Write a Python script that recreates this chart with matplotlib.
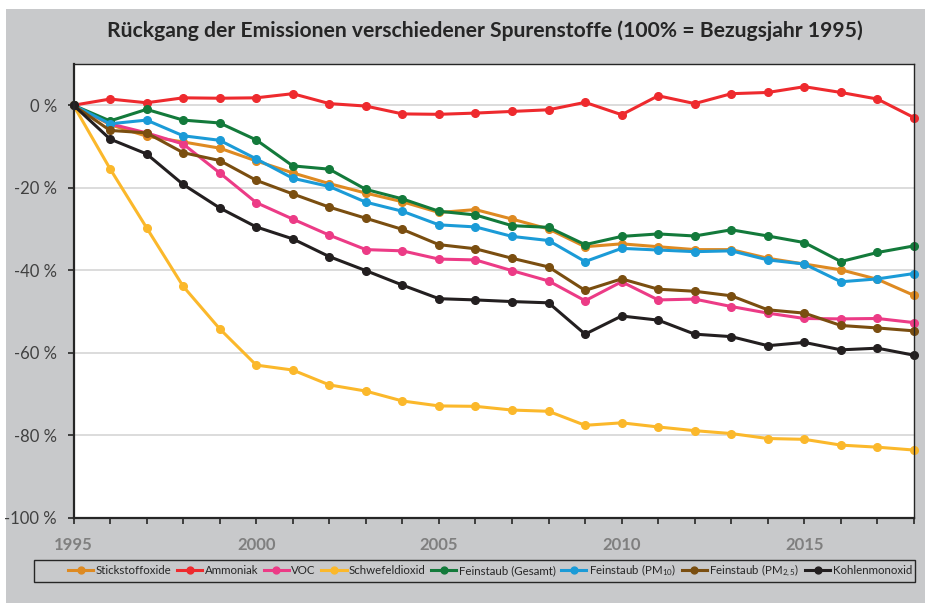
import matplotlib
matplotlib.use("Agg")
import matplotlib.pyplot as plt
from matplotlib.patches import Rectangle

plt.rcParams['font.family'] = ['Lato', 'DejaVu Sans']
plt.rcParams['mathtext.fontset'] = 'custom'
plt.rcParams['mathtext.rm'] = 'Lato'
plt.rcParams['mathtext.it'] = 'Lato'

years = list(range(1995, 2019))

stickstoffoxide = [0, -4.7, -7.5, -8.9, -10.4, -13.5, -16.4, -19.0, -21.3, -23.4, -26.0, -25.3,
                   -27.6, -30.0, -34.3, -33.6, -34.3, -35.0, -35.0, -37.1, -38.5, -39.9, -42.2, -46.1]
ammoniak = [0, 1.5, 0.6, 1.8, 1.7, 1.8, 2.8, 0.4, -0.2, -2.1, -2.2, -1.9,
            -1.5, -1.1, 0.7, -2.3, 2.3, 0.4, 2.8, 3.1, 4.5, 3.1, 1.5, -3.0]
voc = [0, -4.5, -6.7, -9.4, -16.4, -23.6, -27.6, -31.5, -35.0, -35.3, -37.3, -37.5,
       -40.1, -42.6, -47.4, -42.8, -47.2, -47.0, -48.8, -50.4, -51.7, -51.8, -51.7, -52.7]
schwefeldioxid = [0, -15.4, -29.7, -43.9, -54.2, -63.0, -64.2, -67.8, -69.3, -71.7, -72.9, -73.0,
                  -73.9, -74.2, -77.6, -77.0, -78.0, -78.9, -79.6, -80.8, -81.0, -82.4, -82.9, -83.6]
feinstaub_gesamt = [0, -3.8, -1.0, -3.6, -4.3, -8.4, -14.7, -15.5, -20.4, -22.7, -25.7, -26.6,
                    -29.2, -29.6, -33.8, -31.8, -31.2, -31.7, -30.2, -31.7, -33.3, -37.9, -35.7, -34.1]
feinstaub_pm10 = [0, -4.5, -3.6, -7.4, -8.5, -13.0, -17.7, -19.7, -23.5, -25.7, -29.0, -29.5,
                  -31.8, -32.8, -37.9, -34.7, -35.1, -35.5, -35.3, -37.5, -38.5, -42.8, -42.1, -40.8]
feinstaub_pm25 = [0, -6.1, -6.7, -11.5, -13.4, -18.2, -21.5, -24.7, -27.4, -30.1, -33.8, -34.8,
                  -37.1, -39.2, -44.9, -42.1, -44.6, -45.1, -46.2, -49.6, -50.4, -53.4, -54.0, -54.7]
kohlenmonoxid = [0, -8.2, -11.8, -19.2, -24.9, -29.5, -32.4, -36.7, -40.1, -43.6, -46.9, -47.2,
                 -47.6, -47.9, -55.5, -51.1, -52.1, -55.5, -56.1, -58.3, -57.5, -59.3, -58.9, -60.6]

series = [
    ("Stickstoffoxide", stickstoffoxide, "#DE8A22"),
    ("Ammoniak", ammoniak, "#EE2A2E"),
    ("VOC", voc, "#EC3B86"),
    ("Schwefeldioxid", schwefeldioxid, "#FBB82B"),
    ("Feinstaub (Gesamt)", feinstaub_gesamt, "#137A3B"),
    ("Feinstaub (PM$_{10}$)", feinstaub_pm10, "#1B9BD7"),
    ("Feinstaub (PM$_{2,5}$)", feinstaub_pm25, "#7A4E10"),
    ("Kohlenmonoxid", kohlenmonoxid, "#231F20"),
]

BG = "#C8C9CB"
W, H = 925, 603

fig = plt.figure(figsize=(9.25, 6.03), dpi=100)
fig.patch.set_facecolor("white")
# grey panel behind everything
fig.patches.append(Rectangle((6 / W, 0), 1 - 6 / W, 1 - 9 / H, transform=fig.transFigure,
                             facecolor=BG, edgecolor="none", zorder=-10))

ax = fig.add_axes([73.5 / W, 1 - 517.7 / H, (914 - 73.5) / W, (517.7 - 64) / H])
ax.set_facecolor("white")

for label, values, color in series:
    ax.plot(years, values, color=color, lw=2.2, marker="o", ms=5.5, label=label,
            clip_on=False, solid_joinstyle="round")

ax.set_xlim(1995, 2018)
ax.set_ylim(-100, 10)
ax.set_yticks(range(-100, 1, 20))
ax.set_yticklabels([f"{v} %" for v in range(-100, 1, 20)], color="#404040", fontsize=12)
ax.set_xticks(years)
ax.set_xticklabels([str(y) if y % 5 == 0 else "" for y in years],
                   color="#7F7F7F", fontsize=12, fontweight="bold")
ax.tick_params(axis="y", length=4, width=1.2, pad=8, color="#262626")
ax.tick_params(axis="x", length=4, width=1.2, pad=10, color="#262626")
ax.grid(axis="y", color="#D9D9D9", lw=1.3)
ax.set_axisbelow(True)

for side in ("left", "bottom"):
    ax.spines[side].set_linewidth(1.6)
    ax.spines[side].set_color("#262626")
for side in ("top", "right"):
    ax.spines[side].set_linewidth(1.0)
    ax.spines[side].set_color("#262626")

fig.text(484.5 / W, 1 - 31 / H,
         "Rückgang der Emissionen verschiedener Spurenstoffe (100% = Bezugsjahr 1995)",
         ha="center", va="center", fontsize=15.2, fontweight="bold", color="#262626")

# legend frame
fig.patches.append(Rectangle((34 / W, 1 - 582 / H), (915 - 34) / W, 22 / H,
                             transform=fig.transFigure, facecolor="none",
                             edgecolor="#262626", lw=1.0))
handles, labels = ax.get_legend_handles_labels()
fig.legend(handles, labels, ncol=8, frameon=False, fontsize=8.3, mode="expand",
           bbox_to_anchor=(68 / W, 1 - 582 / H, (912 - 68) / W, 22 / H),
           loc="center", handlelength=2.2, handletextpad=0.2, columnspacing=0.6,
           borderaxespad=0, borderpad=0, markerscale=0.9, labelcolor="#262626")

fig.savefig("out.png", dpi=100, facecolor=fig.get_facecolor())
